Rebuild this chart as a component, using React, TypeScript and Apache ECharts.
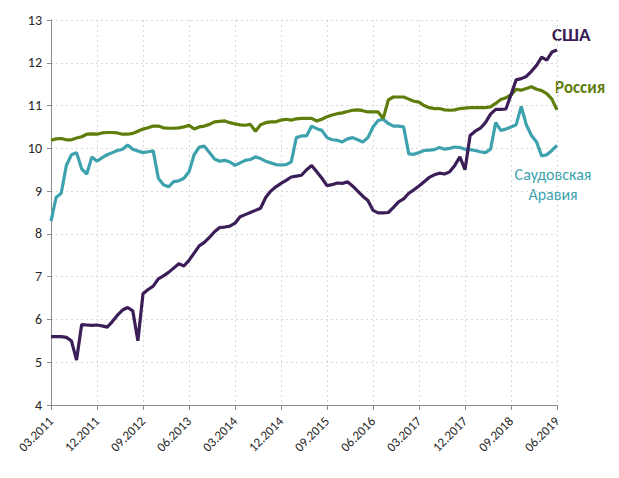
import React, { useEffect, useRef } from "react";
import * as echarts from "echarts";

const startYear = 2011;
const startMonth = 3;
const monthCount = 100;
const months: string[] = [];
for (let k = 0; k < monthCount; k++) {
  const m = ((startMonth - 1 + k) % 12) + 1;
  const y = startYear + Math.floor((startMonth - 1 + k) / 12);
  months.push((m < 10 ? "0" + m : "" + m) + "." + y);
}

const usa = [
  5.6, 5.6, 5.6, 5.58, 5.5, 5.05, 5.88, 5.87, 5.86, 5.87,
  5.85, 5.82, 5.95, 6.1, 6.22, 6.28, 6.2, 5.5, 6.6, 6.7,
  6.78, 6.95, 7.02, 7.1, 7.2, 7.3, 7.25, 7.38, 7.55, 7.72,
  7.8, 7.92, 8.05, 8.15, 8.16, 8.18, 8.25, 8.4, 8.45, 8.5,
  8.55, 8.6, 8.85, 9.0, 9.1, 9.18, 9.25, 9.33, 9.35, 9.37,
  9.5, 9.6, 9.45, 9.3, 9.13, 9.15, 9.19, 9.18, 9.22, 9.12,
  9.0, 8.88, 8.78, 8.55, 8.49, 8.49, 8.5, 8.62, 8.75, 8.82,
  8.95, 9.03, 9.12, 9.22, 9.32, 9.38, 9.42, 9.4, 9.45, 9.6,
  9.8, 9.5, 10.3, 10.4, 10.47, 10.6, 10.8, 10.91, 10.91, 10.92,
  11.25, 11.6, 11.63, 11.68, 11.8, 11.94, 12.13, 12.06, 12.25, 12.3,
];

const russia = [
  10.19, 10.22, 10.23, 10.2, 10.2, 10.24, 10.27, 10.33, 10.34, 10.33,
  10.36, 10.37, 10.37, 10.36, 10.33, 10.33, 10.35, 10.4, 10.45, 10.48,
  10.52, 10.52, 10.48, 10.47, 10.47, 10.48, 10.5, 10.54, 10.45, 10.5,
  10.52, 10.56, 10.62, 10.63, 10.64, 10.6, 10.57, 10.55, 10.54, 10.56,
  10.4, 10.55, 10.6, 10.62, 10.62, 10.66, 10.68, 10.66, 10.69, 10.7,
  10.7, 10.7, 10.64, 10.68, 10.74, 10.78, 10.81, 10.83, 10.86, 10.89,
  10.9, 10.88, 10.85, 10.85, 10.85, 10.7, 11.13, 11.2, 11.2, 11.2,
  11.15, 11.1, 11.08, 11.0, 10.95, 10.93, 10.93, 10.9, 10.89, 10.9,
  10.93, 10.94, 10.95, 10.95, 10.95, 10.95, 10.97, 11.05, 11.14, 11.18,
  11.25, 11.38, 11.36, 11.4, 11.44, 11.38, 11.35, 11.28, 11.15, 10.9,
];

const saudi = [
  8.3, 8.85, 8.95, 9.6, 9.85, 9.9, 9.52, 9.4, 9.8, 9.7,
  9.78, 9.85, 9.9, 9.95, 9.98, 10.08, 9.98, 9.94, 9.9, 9.92,
  9.94, 9.3, 9.15, 9.1, 9.22, 9.24, 9.3, 9.45, 9.85, 10.03,
  10.05, 9.9, 9.75, 9.7, 9.72, 9.68, 9.6, 9.66, 9.72, 9.74,
  9.8, 9.76, 9.7, 9.66, 9.62, 9.61, 9.62, 9.68, 10.25, 10.29,
  10.29, 10.52, 10.46, 10.42, 10.25, 10.2, 10.19, 10.15, 10.22, 10.25,
  10.2, 10.15, 10.25, 10.5, 10.65, 10.68, 10.58, 10.52, 10.52, 10.5,
  9.87, 9.86, 9.9, 9.95, 9.96, 9.97, 10.02, 9.98, 10.0, 10.03,
  10.02, 9.98, 9.97, 9.95, 9.92, 9.9, 9.98, 10.6, 10.42, 10.45,
  10.5, 10.55, 10.98, 10.55, 10.3, 10.15, 9.82, 9.85, 9.95, 10.07,
];

const seriesNames = ["США", "Россия", "Саудовская Аравия"];
const saudiLabelLines = ["Саудовская", "Аравия"];
const colors = ["#3B1E57", "#5E7D0B", "#3DA2AE"];
const FONT = "Calibri, Carlito, Lato, 'Open Sans', sans-serif";

export default function App() {
  const ref = useRef<HTMLDivElement>(null);
  useEffect(() => {
    if (!ref.current) return;
    const chart = echarts.init(ref.current, undefined, { renderer: "svg" });
    chart.setOption({
      animation: false,
      backgroundColor: "#ffffff",
      grid: { left: 51, right: 62, top: 20, bottom: 73, containLabel: false },
      xAxis: {
        type: "category",
        data: months,
        boundaryGap: false,
        axisLine: { lineStyle: { color: "#8C8C8C", width: 1 } },
        axisTick: { show: true, interval: 8, length: 5, lineStyle: { color: "#8C8C8C" } },
        axisLabel: {
          interval: 8,
          rotate: 45,
          margin: 14,
          color: "#262626",
          fontSize: 13,
          fontFamily: FONT,
        },
        splitLine: {
          show: true,
          interval: 8,
          lineStyle: { color: "#D9D9D9", type: [2, 3], width: 1 },
        },
      },
      yAxis: {
        type: "value",
        min: 4,
        max: 13,
        interval: 1,
        axisLine: { show: true, lineStyle: { color: "#8C8C8C", width: 1 } },
        axisTick: { show: true, length: 4, lineStyle: { color: "#8C8C8C" } },
        axisLabel: { color: "#262626", fontSize: 14, margin: 9, fontFamily: FONT },
        splitLine: { show: true, lineStyle: { color: "#D9D9D9", type: [2, 3], width: 1 } },
      },
      series: [
        {
          name: seriesNames[2],
          type: "line",
          data: saudi,
          showSymbol: false,
          lineStyle: { color: colors[2], width: 3.2 },
          itemStyle: { color: colors[2] },
        },
        {
          name: seriesNames[1],
          type: "line",
          data: russia,
          showSymbol: false,
          lineStyle: { color: colors[1], width: 3.2 },
          itemStyle: { color: colors[1] },
        },
        {
          name: seriesNames[0],
          type: "line",
          data: usa,
          showSymbol: false,
          lineStyle: { color: colors[0], width: 3.2 },
          itemStyle: { color: colors[0] },
        },
      ],
      graphic: [
        {
          type: "text",
          x: 552,
          y: 34,
          style: {
            text: seriesNames[0],
            fill: colors[0],
            font: "bold 19px " + FONT,
            verticalAlign: "middle",
          },
        },
        {
          type: "text",
          x: 555,
          y: 87,
          style: {
            text: seriesNames[1],
            fill: colors[1],
            font: "bold 17px " + FONT,
            verticalAlign: "middle",
          },
        },
        {
          type: "text",
          x: 553,
          y: 174,
          style: {
            text: saudiLabelLines[0],
            fill: colors[2],
            font: "16px " + FONT,
            align: "center",
            verticalAlign: "middle",
          },
        },
        {
          type: "text",
          x: 553,
          y: 194,
          style: {
            text: saudiLabelLines[1],
            fill: colors[2],
            font: "16px " + FONT,
            align: "center",
            verticalAlign: "middle",
          },
        },
      ],
    });
    return () => chart.dispose();
  }, []);
  return (
    <div
      ref={ref}
      style={{ position: "fixed", left: 0, top: 0, width: 619, height: 478, background: "#fff" }}
    />
  );
}
